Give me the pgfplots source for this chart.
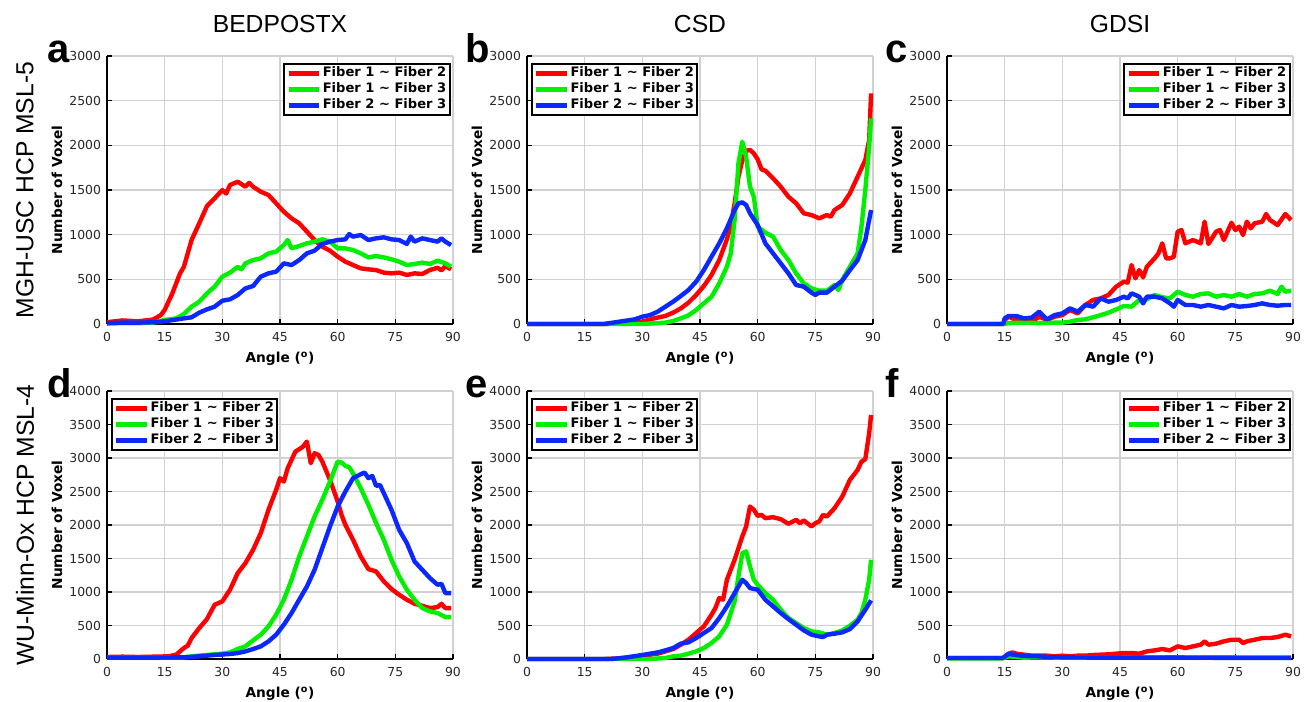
\documentclass[border=0pt]{standalone}
\usepackage{fontspec}
\setmainfont{DejaVu Sans}
\newfontfamily\lib{Liberation Sans}
\usepackage{pgfplots}
\pgfplotsset{compat=1.18}

\definecolor{fred}{RGB}{255,0,0}
\definecolor{fgreen}{RGB}{0,240,0}
\definecolor{fblue}{RGB}{10,40,255}

\pgfplotsset{
  panel/.style={
    scale only axis, width=259.5pt, height=201pt,
    anchor=south west,
    xmin=0, xmax=90, ymin=0,
    xtick={0,15,...,90},
    axis lines*=left,
    axis line style={black, line width=1.5pt},
    grid=major, major grid style={black!18, line width=1pt},
    tick style={black, line width=1pt}, major tick length=3.5pt,
    tick align=inside,
    ticklabel style={font=\fontsize{9.3}{10}\selectfont, text=black!85},
    xticklabel style={yshift=-3pt},
    yticklabel style={xshift=-1pt},
    /pgf/number format/assume math mode=true,
    /pgf/number format/1000 sep={},
    xlabel={Angle (\textsuperscript{o})},
    ylabel={Number of Voxel},
    label style={font=\bfseries\fontsize{10.3}{11}\selectfont},
    xlabel style={at={(axis description cs:0.5,-0.13)}, anchor=center},
    ylabel style={at={(axis description cs:-0.1445,0.5)}, anchor=center},
    clip=false,
    legend cell align=left,
    legend style={draw=black, line width=1.5pt, inner sep=1.5pt,
      font=\bfseries\fontsize{9.8}{10}\selectfont,
      nodes={inner sep=1pt, text height=7.4pt, text depth=2.2pt},
      row sep=0.4pt},
    legend image code/.code={\draw[#1, line width=3.3pt] (0pt,0pt) -- (23pt,0pt);},
    every axis plot/.append style={line width=3.3pt, line join=round},
  },
  legright/.style={legend style={at={(axis description cs:0.993,0.975)}, anchor=north east}},
  legleft/.style={legend style={at={(axis description cs:0.012,0.975)}, anchor=north west}},
  row1/.style={ymax=3000, ytick={0,500,...,3000}},
  row2/.style={ymax=4000, ytick={0,500,...,4000}},
}

\begin{document}
\begin{tikzpicture}
\useasboundingbox (0,0) rectangle (981.75pt,-525.75pt);

% titles and row labels
\node[font=\lib\fontsize{18.5}{20}\selectfont] at (210pt,-18pt) {BEDPOSTX};
\node[font=\lib\fontsize{18.5}{20}\selectfont] at (525pt,-18pt) {CSD};
\node[font=\lib\fontsize{18.5}{20}\selectfont] at (840pt,-18pt) {GDSI};
\node[rotate=90, font=\lib\fontsize{18.5}{20}\selectfont] at (18.75pt,-142.5pt) {MGH-USC HCP MSL-5};
\node[rotate=90, font=\lib\fontsize{18.5}{20}\selectfont] at (18.75pt,-393.75pt) {WU-Minn-Ox HCP MSL-4};

% panel letters
\foreach \l/\x/\y in {a/35.25pt/-46.5pt, b/348.75pt/-46.5pt, c/663.75pt/-46.5pt,
                       d/35.25pt/-297.75pt, e/348.75pt/-297.75pt, f/663.75pt/-297.75pt}
  \node[anchor=base west, inner sep=0pt, font=\lib\bfseries\fontsize{30}{31}\selectfont] at (\x,\y) {\l};

% (a) BEDPOSTX, MGH-USC
\begin{axis}[panel, row1, legright, at={(80.25pt,-243pt)}]
\addplot[fred] coordinates {(0,20)(2,30)(4,40)(6,35)(8,30)(10,40)(12,50)(14,100)(15,157)(17,343)(19,567)(20,640)(22,940)(24,1127)(26,1320)(28,1407)(30,1500)(31,1460)(32,1556)(34,1593)(36,1537)(37,1580)(38,1537)(40,1481)(42,1444)(44,1351)(46,1257)(48,1183)(50,1127)(52,1034)(54,940)(56,866)(58,821)(60,754)(62,698)(64,660)(66,623)(68,612)(70,604)(72,575)(74,567)(76,575)(78,549)(80,567)(82,560)(84,604)(86,630)(87,600)(88,649)(89.5,612)};
\addplot[fgreen] coordinates {(0,5)(4,10)(8,10)(12,15)(15,45)(18,63)(20,112)(22,194)(24,250)(26,343)(28,418)(30,530)(32,575)(34,640)(35,612)(36,679)(38,716)(40,735)(42,791)(44,810)(46,884)(47,940)(48,847)(50,873)(52,903)(54,922)(56,948)(58,922)(60,847)(62,847)(64,828)(66,791)(68,746)(70,761)(72,746)(74,724)(76,698)(78,660)(80,672)(82,687)(84,672)(86,709)(88,679)(89.5,642)};
\addplot[fblue] coordinates {(0,10)(4,15)(8,15)(12,20)(15,30)(18,50)(20,63)(22,75)(24,127)(26,164)(28,194)(30,261)(32,276)(34,325)(36,399)(38,425)(40,530)(42,567)(44,586)(46,679)(48,660)(50,716)(52,791)(54,821)(56,896)(58,922)(60,940)(62,948)(63,1007)(64,978)(66,996)(68,940)(70,959)(72,970)(74,948)(76,940)(78,896)(79,978)(80,922)(82,959)(84,940)(86,922)(87,959)(88,922)(89.5,884)};
\legend{Fiber 1 \textasciitilde{} Fiber 2, Fiber 1 \textasciitilde{} Fiber 3, Fiber 2 \textasciitilde{} Fiber 3}
\end{axis}

% (b) CSD, MGH-USC
\begin{axis}[panel, row1, legleft, at={(395.25pt,-243pt)}]
\addplot[fred] coordinates {(0,0)(20,0)(25,10)(30,26)(33,63)(36,90)(38,127)(40,175)(42,239)(44,325)(46,425)(48,549)(50,716)(52,948)(53,1100)(54,1350)(55,1650)(56,1830)(57,1940)(58,1948)(59,1910)(60,1843)(61,1731)(62,1716)(64,1631)(66,1537)(68,1425)(70,1351)(72,1239)(74,1220)(76,1183)(78,1220)(79,1201)(80,1276)(82,1332)(84,1463)(86,1649)(88,1836)(89,2060)(89.5,2582)};
\addplot[fgreen] coordinates {(0,0)(30,0)(34,10)(36,15)(38,34)(40,63)(42,97)(44,157)(46,231)(48,306)(50,455)(52,642)(53,791)(54,1164)(55,1799)(56,2041)(57,1873)(58,1537)(59,1425)(60,1090)(62,1022)(64,978)(66,828)(68,716)(70,567)(72,455)(74,399)(76,373)(78,373)(80,437)(81,381)(82,493)(84,642)(86,791)(87,1090)(88,1500)(89,1985)(89.5,2302)};
\addplot[fblue] coordinates {(0,0)(20,0)(24,26)(28,52)(30,82)(32,100)(34,138)(36,194)(38,250)(40,313)(42,381)(44,474)(46,604)(48,754)(50,903)(52,1071)(54,1276)(55,1351)(56,1362)(57,1332)(58,1239)(60,1108)(62,903)(64,791)(66,679)(68,567)(70,437)(72,418)(74,351)(75,325)(76,351)(78,351)(80,418)(82,485)(84,604)(86,716)(88,940)(89.5,1276)};
\legend{Fiber 1 \textasciitilde{} Fiber 2, Fiber 1 \textasciitilde{} Fiber 3, Fiber 2 \textasciitilde{} Fiber 3}
\end{axis}

% (c) GDSI, MGH-USC
\begin{axis}[panel, row1, legright, at={(710.25pt,-243pt)}]
\addplot[fred] coordinates {(0,0)(14.8,0)(15,45)(16,82)(18,45)(20,26)(22,26)(24,82)(26,45)(28,82)(30,100)(32,157)(34,119)(36,213)(38,269)(40,287)(42,325)(44,418)(46,474)(47,463)(48,660)(49,511)(50,604)(51,522)(52,642)(54,735)(55,791)(56,903)(57,735)(58,735)(59,754)(60,1034)(61,1052)(62,903)(64,940)(66,903)(67,1146)(68,896)(70,1034)(71,1052)(72,940)(74,1134)(75,1052)(76,1090)(77,996)(78,1146)(79,1071)(80,1127)(82,1146)(83,1231)(84,1164)(86,1108)(88,1231)(89.5,1164)};
\addplot[fgreen] coordinates {(0,0)(15,0)(16,10)(20,15)(24,10)(28,15)(30,15)(32,26)(34,45)(36,52)(38,75)(40,100)(42,127)(44,164)(46,201)(48,194)(50,269)(52,276)(54,325)(56,299)(58,287)(60,362)(62,325)(64,306)(66,336)(68,343)(70,306)(72,325)(74,306)(76,336)(78,306)(80,336)(82,343)(84,373)(86,336)(87,418)(88,362)(89.5,373)};
\addplot[fblue] coordinates {(0,0)(14.6,0)(15,63)(16,90)(18,90)(20,63)(22,71)(24,138)(26,52)(28,100)(30,119)(32,175)(34,138)(36,213)(38,194)(40,287)(42,250)(44,269)(46,306)(47,287)(48,343)(50,306)(51,231)(52,306)(54,306)(56,287)(58,231)(59,194)(60,269)(62,213)(64,213)(66,194)(68,213)(70,194)(72,175)(74,213)(76,194)(78,201)(80,213)(82,231)(84,213)(86,205)(88,213)(89.5,213)};
\legend{Fiber 1 \textasciitilde{} Fiber 2, Fiber 1 \textasciitilde{} Fiber 3, Fiber 2 \textasciitilde{} Fiber 3}
\end{axis}

% (d) BEDPOSTX, WU-Minn
\begin{axis}[panel, row2, legleft, at={(80.25pt,-494.25pt)}]
\addplot[fred] coordinates {(0,30)(4,35)(8,30)(12,35)(16,40)(18,65)(20,164)(21,199)(22,313)(24,462)(26,596)(28,810)(30,860)(32,1034)(34,1282)(36,1431)(38,1630)(40,1879)(42,2227)(44,2525)(45,2699)(46,2649)(47,2848)(48,2972)(49,3096)(50,3131)(51,3171)(52,3245)(53,2922)(54,3071)(55,3047)(56,2947)(58,2674)(60,2351)(61,2152)(62,2003)(64,1779)(66,1531)(68,1342)(70,1307)(72,1158)(74,1044)(76,959)(78,885)(80,825)(82,795)(84,760)(86,775)(87,825)(88,760)(89.5,760)};
\addplot[fgreen] coordinates {(0,20)(10,20)(20,25)(22,40)(26,60)(30,80)(32,99)(34,149)(36,189)(38,278)(40,363)(42,487)(44,661)(46,885)(48,1183)(50,1531)(52,1829)(54,2127)(56,2376)(58,2649)(60,2947)(61,2932)(62,2883)(63,2863)(64,2773)(66,2550)(68,2301)(70,2028)(72,1779)(74,1481)(76,1233)(78,1034)(80,885)(82,760)(84,711)(86,686)(88,626)(89.5,626)};
\addplot[fblue] coordinates {(0,20)(10,20)(20,25)(24,40)(28,60)(32,75)(34,89)(36,114)(38,149)(40,189)(42,263)(44,363)(46,512)(48,686)(50,885)(52,1083)(54,1332)(56,1655)(58,1978)(60,2276)(62,2500)(64,2699)(66,2758)(67,2783)(68,2699)(69,2733)(70,2584)(71,2599)(72,2475)(74,2227)(76,1928)(78,1730)(80,1456)(82,1332)(84,1208)(86,1108)(87,1123)(88,984)(89.5,984)};
\legend{Fiber 1 \textasciitilde{} Fiber 2, Fiber 1 \textasciitilde{} Fiber 3, Fiber 2 \textasciitilde{} Fiber 3}
\end{axis}

% (e) CSD, WU-Minn
\begin{axis}[panel, row2, legleft, at={(395.25pt,-494.25pt)}]
\addplot[fred] coordinates {(0,0)(20,0)(24,10)(28,25)(32,65)(34,80)(36,114)(38,149)(40,214)(42,288)(44,388)(46,487)(48,661)(49,760)(50,910)(51,885)(52,1183)(54,1481)(56,1829)(57,1978)(58,2276)(59,2227)(60,2137)(61,2152)(62,2102)(64,2117)(66,2087)(68,2018)(70,2077)(71,2028)(72,2068)(74,1978)(75,2028)(76,2053)(77,2152)(78,2127)(80,2251)(82,2425)(84,2674)(86,2823)(87,2947)(88,2982)(89,3370)(89.5,3643)};
\addplot[fgreen] coordinates {(0,0)(32,0)(36,15)(38,40)(40,50)(42,80)(44,114)(46,164)(48,239)(50,338)(52,512)(54,860)(55,1233)(56,1580)(57,1605)(58,1382)(59,1183)(60,1108)(62,984)(64,885)(66,736)(68,611)(70,537)(72,462)(74,413)(76,398)(78,363)(80,388)(82,427)(84,497)(86,587)(87,686)(88,885)(89,1183)(89.5,1481)};
\addplot[fblue] coordinates {(0,0)(22,0)(26,25)(30,60)(32,80)(34,99)(36,129)(38,164)(40,229)(42,249)(44,313)(46,388)(48,462)(50,611)(52,785)(54,984)(56,1183)(57,1133)(58,1059)(60,1034)(62,885)(64,785)(66,686)(68,596)(70,512)(72,427)(74,363)(76,338)(77,328)(78,363)(80,378)(82,398)(84,447)(86,562)(88,736)(89.5,875)};
\legend{Fiber 1 \textasciitilde{} Fiber 2, Fiber 1 \textasciitilde{} Fiber 3, Fiber 2 \textasciitilde{} Fiber 3}
\end{axis}

% (f) GDSI, WU-Minn
\begin{axis}[panel, row2, legright, at={(710.25pt,-494.25pt)}]
\addplot[fred] coordinates {(0,15)(14.5,15)(15,30)(16,80)(17,99)(18,80)(20,65)(22,50)(24,50)(26,50)(28,40)(30,50)(32,40)(34,50)(36,50)(38,60)(40,65)(42,70)(44,80)(46,89)(48,89)(50,80)(52,114)(54,129)(56,149)(58,129)(60,189)(62,164)(64,189)(66,214)(67,263)(68,214)(70,229)(72,263)(74,288)(76,288)(77,239)(78,263)(80,288)(82,313)(84,313)(86,328)(88,363)(89.5,338)};
\addplot[fgreen] coordinates {(0,10)(14.5,10)(16,40)(18,30)(20,20)(24,25)(30,20)(40,20)(50,20)(60,25)(70,25)(80,22)(89.5,20)};
\addplot[fblue] coordinates {(0,15)(14.5,15)(16,75)(18,60)(20,45)(24,40)(26,30)(30,25)(40,20)(50,20)(60,20)(70,18)(80,18)(89.5,18)};
\legend{Fiber 1 \textasciitilde{} Fiber 2, Fiber 1 \textasciitilde{} Fiber 3, Fiber 2 \textasciitilde{} Fiber 3}
\end{axis}
\end{tikzpicture}
\end{document}
